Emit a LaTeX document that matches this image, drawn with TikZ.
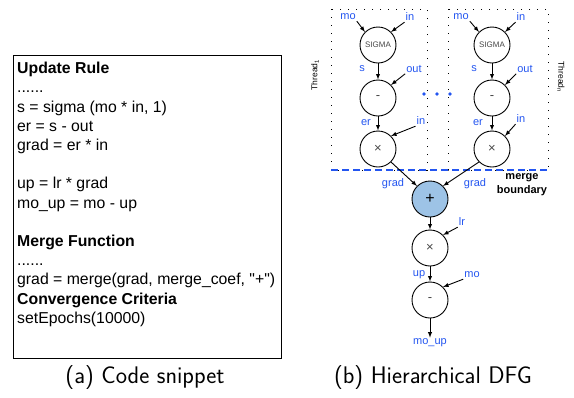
\documentclass[tikz,border=0pt]{standalone}
\usepackage{fontspec}
\setmainfont{Liberation Sans}[Ligatures=TeXOff]
\usepackage{amsmath}
\definecolor{lblue}{RGB}{35,85,240}
\definecolor{mergefill}{RGB}{157,195,230}
\definecolor{opgray}{RGB}{70,70,70}

\begin{document}
\begin{tikzpicture}[x=1pt, y=-1pt, >=latex,
    op/.style={draw, circle, minimum size=36pt, inner sep=0pt, line width=0.9pt, text=opgray, font=\fontsize{13}{14}\selectfont},
    lbl/.style={text=lblue, inner sep=1pt, font=\fontsize{11}{12}\selectfont},
    flow/.style={->, line width=0.9pt},
    threadbox/.style={draw, line width=0.8pt, dash pattern=on 1pt off 7pt}]
    \useasboundingbox (0,0) rectangle (574,397);

    % (a) code snippet
    \draw[line width=0.9pt] (13,55) rectangle (281,358);
    \node[anchor=north west, inner sep=0pt, align=left, font=\fontsize{15.8}{19.2}\selectfont] (code) at (17,62)
        {\textbf{Update Rule}\\ ......\\ s = sigma (mo * in, 1)\\ er = s - out\\ grad = er * in\\[19.2pt]
         up = lr * grad\\ mo\_up = mo - up\\[19.2pt]
         \textbf{Merge Function}\\ ......\\ grad = merge(grad, merge\_coef, "+")\\
         \textbf{Convergence Criteria}\\ setEpochs(10000)};
    \node[font=\fontsize{24}{26}\sffamily] (capa) at (145,378) {(a) Code snippet};

    % (b) hierarchical DFG
    \draw[threadbox] (331,9) rectangle (427,170);
    \draw[threadbox] (448,9) rectangle (548,170);
    \node[rotate=90, font=\fontsize{8.5}{10}\selectfont] (thr1) at (315,75) {Thread\textsubscript{1}};
    \node[rotate=-90, font=\fontsize{8.5}{10}\selectfont] (thrn) at (561,77) {Thread\textsubscript{n}};

    % thread 1
    \node[op] (S1) at (378,45) {\fontsize{8}{9}\selectfont SIGMA};
    \node[op] (M1) at (378,98) {-};
    \node[op] (X1) at (378,149) {×};
    \node[lbl] (mo1) at (348,17) {mo};
    \node[lbl] (in1) at (410,17) {in};
    \node[lbl] (s1) at (362,69) {s};
    \node[lbl] (out1) at (414,69) {out};
    \node[lbl] (er1) at (366,123) {er};
    \node[lbl] (inb1) at (421,121) {in};
    \draw[flow] (mo1.south east) -- (S1.north west);
    \draw[flow] (in1.south west) -- (S1.north east);
    \draw[flow] (S1) -- (M1);
    \draw[flow] (out1.south west) -- (M1.north east);
    \draw[flow] (M1) -- (X1);
    \draw[flow] (inb1.south west) -- (X1.north east);

    % thread n
    \node[op] (S2) at (492,45) {\fontsize{8}{9}\selectfont SIGMA};
    \node[op] (M2) at (492,98) {-};
    \node[op] (X2) at (492,149) {×};
    \node[lbl] (mo2) at (461,17) {mo};
    \node[lbl] (in2) at (521,17) {in};
    \node[lbl] (s2) at (474,69) {s};
    \node[lbl] (out2) at (525,69) {out};
    \node[lbl] (er2) at (478,123) {er};
    \node[lbl] (inb2) at (521,119) {in};
    \draw[flow] (mo2.south east) -- (S2.north west);
    \draw[flow] (in2.south west) -- (S2.north east);
    \draw[flow] (S2) -- (M2);
    \draw[flow] (out2.south west) -- (M2.north east);
    \draw[flow] (M2) -- (X2);
    \draw[flow] (inb2.south west) -- (X2.north east);

    \fill[lblue] (424,94) circle (1.8pt) (437,94) circle (1.8pt) (450,94) circle (1.8pt);
    \draw[lblue, line width=1.2pt, dash pattern=on 7pt off 4pt] (331,170) -- (548,170);
    \node[align=center, font=\bfseries\fontsize{11}{14}\selectfont, inner sep=0pt] (bound) at (522,185) {merge\\boundary};

    % merge and update
    \node[op, fill=mergefill, text=black, font=\fontsize{16}{16}\selectfont] (P) at (430,199) {+};
    \node[op] (X3) at (430,248) {×};
    \node[op] (M3) at (430,300) {-};
    \node[lbl] (grad1) at (393,184) {grad};
    \node[lbl] (grad2) at (475,184) {grad};
    \node[lbl] (lr) at (462,222) {lr};
    \node[lbl] (up) at (419,275) {up};
    \node[lbl] (mo3) at (472,275) {mo};
    \node[lbl] (moup) at (430,343) {mo\_up};
    \draw[flow] (X1.south east) -- (P.north west);
    \draw[flow] (X2.south west) -- (P.north east);
    \draw[flow] (P) -- (X3);
    \draw[flow] (lr.south west) -- (X3.north east);
    \draw[flow] (X3) -- (M3);
    \draw[flow] (mo3.south west) -- (M3.north east);
    \draw[flow] (M3) -- (moup);

    \node[font=\fontsize{24}{26}\sffamily] (capb) at (433,378) {(b) Hierarchical DFG};
\end{tikzpicture}
\end{document}
